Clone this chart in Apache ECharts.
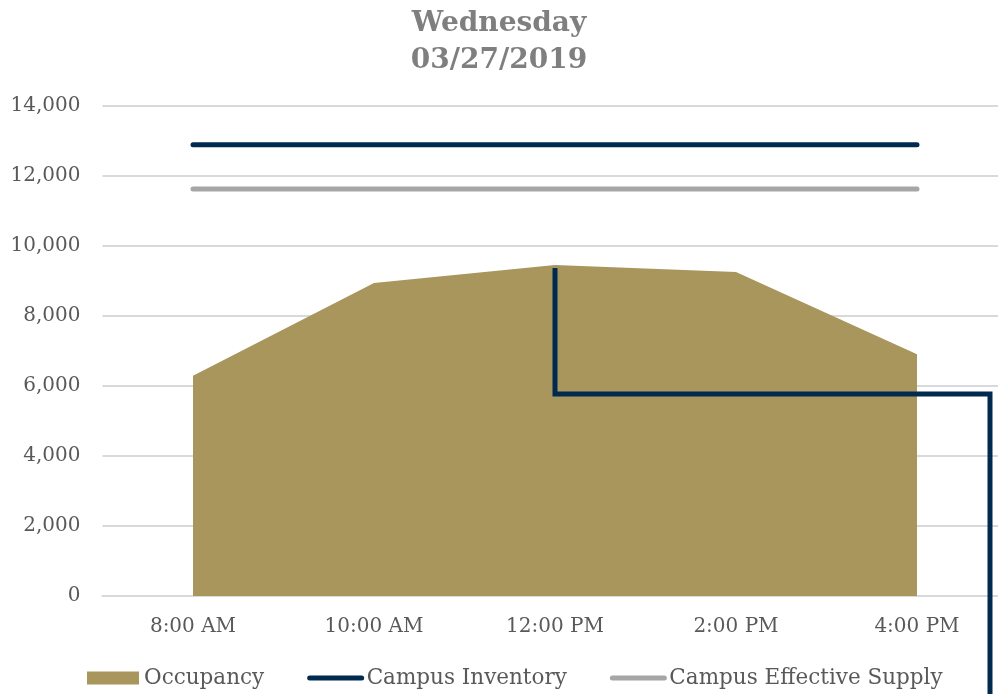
<!DOCTYPE html>
<html>
<head>
<meta charset="utf-8">
<script src="https://cdn.jsdelivr.net/npm/echarts@6/dist/echarts.min.js"></script>
<style>
  html, body { margin: 0; padding: 0; background: #fff; }
  #chart { width: 998px; height: 694px; }
</style>
</head>
<body>
<div id="chart"></div>
<script>
// Hourly parking occupancy against campus capacity
const titleLines = ['Wednesday', '03/27/2019'];
const times = ['8:00 AM', '10:00 AM', '12:00 PM', '2:00 PM', '4:00 PM'];
const occupancy = [6290, 8940, 9460, 9260, 6910];
const campusInventory = [12890, 12890, 12890, 12890, 12890];
const effectiveSupply = [11630, 11630, 11630, 11630, 11630];
// Callout connector: starts at the midday peak and drops to a level before leaving the plot
const calloutTime = '12:00 PM';
const calloutTop = 9370;
const calloutElbow = 5770;

const font = 'DejaVu Serif';
const labelColor = '#595959';
const navy = '#002b4f';
const grey = '#a6a6a6';
const gold = '#a9965d';

const chart = echarts.init(document.getElementById('chart'));

chart.setOption({
  animation: false,
  backgroundColor: '#ffffff',
  title: {
    text: titleLines.join('\n'),
    left: 'center',
    top: 0,
    textStyle: {
      fontFamily: font,
      fontWeight: 'bold',
      fontSize: 28,
      lineHeight: 37,
      color: '#7f7f7f'
    }
  },
  legend: {
    bottom: 0,
    left: 82,
    itemWidth: 52,
    itemHeight: 13,
    itemGap: 43,
    textStyle: { fontFamily: font, fontSize: 21.5, color: labelColor },
    data: [
      { name: 'Occupancy', icon: 'rect' },
      { name: 'Campus Inventory', itemStyle: { opacity: 0 }, lineStyle: { width: 5, cap: 'round' } },
      { name: 'Campus Effective Supply', itemStyle: { opacity: 0 }, lineStyle: { width: 5, cap: 'round' } }
    ]
  },
  grid: { left: 102.5, width: 905, top: 106, bottom: 98, containLabel: false, outerBoundsMode: 'none' },
  xAxis: {
    type: 'category',
    data: times,
    boundaryGap: true,
    axisLine: { show: true, lineStyle: { color: '#d9d9d9', width: 2 } },
    axisTick: { show: false },
    axisLabel: { fontFamily: font, fontSize: 20, color: labelColor, margin: 21 }
  },
  yAxis: {
    type: 'value',
    min: 0,
    max: 14000,
    interval: 2000,
    axisLine: { show: false },
    axisTick: { show: false },
    splitLine: { lineStyle: { color: '#d9d9d9', width: 2 } },
    axisLabel: {
      fontFamily: font, fontSize: 20, color: labelColor, margin: 22,
      formatter: v => v.toLocaleString('en-US')
    }
  },
  series: [
    {
      name: 'Occupancy',
      type: 'line',
      data: occupancy,
      symbol: 'none',
      lineStyle: { width: 0, color: gold },
      itemStyle: { color: gold },
      areaStyle: { color: gold, opacity: 1 },
      z: 1
    },
    {
      name: 'Campus Inventory',
      type: 'line',
      data: campusInventory,
      symbol: 'none',
      lineStyle: { width: 5, color: navy, cap: 'round' },
      itemStyle: { color: navy },
      z: 3
    },
    {
      name: 'Campus Effective Supply',
      type: 'line',
      data: effectiveSupply,
      symbol: 'none',
      lineStyle: { width: 5, color: grey, cap: 'round' },
      itemStyle: { color: grey },
      z: 3
    }
  ]
});

// Connector path anchored to data coordinates on the chart
const peakPt = chart.convertToPixel({ gridIndex: 0 }, [calloutTime, calloutTop]);
const elbowPt = chart.convertToPixel({ gridIndex: 0 }, [calloutTime, calloutElbow]);
const chartW = chart.getWidth();
const chartH = chart.getHeight();
const edgeX = chartW - 8;
chart.setOption({
  graphic: [{
    type: 'polyline',
    z: 10,
    shape: { points: [peakPt, elbowPt, [edgeX, elbowPt[1]], [edgeX, chartH + 10]] },
    style: { stroke: navy, lineWidth: 5, fill: null, lineJoin: 'miter' }
  }]
});
</script>
</body>
</html>
